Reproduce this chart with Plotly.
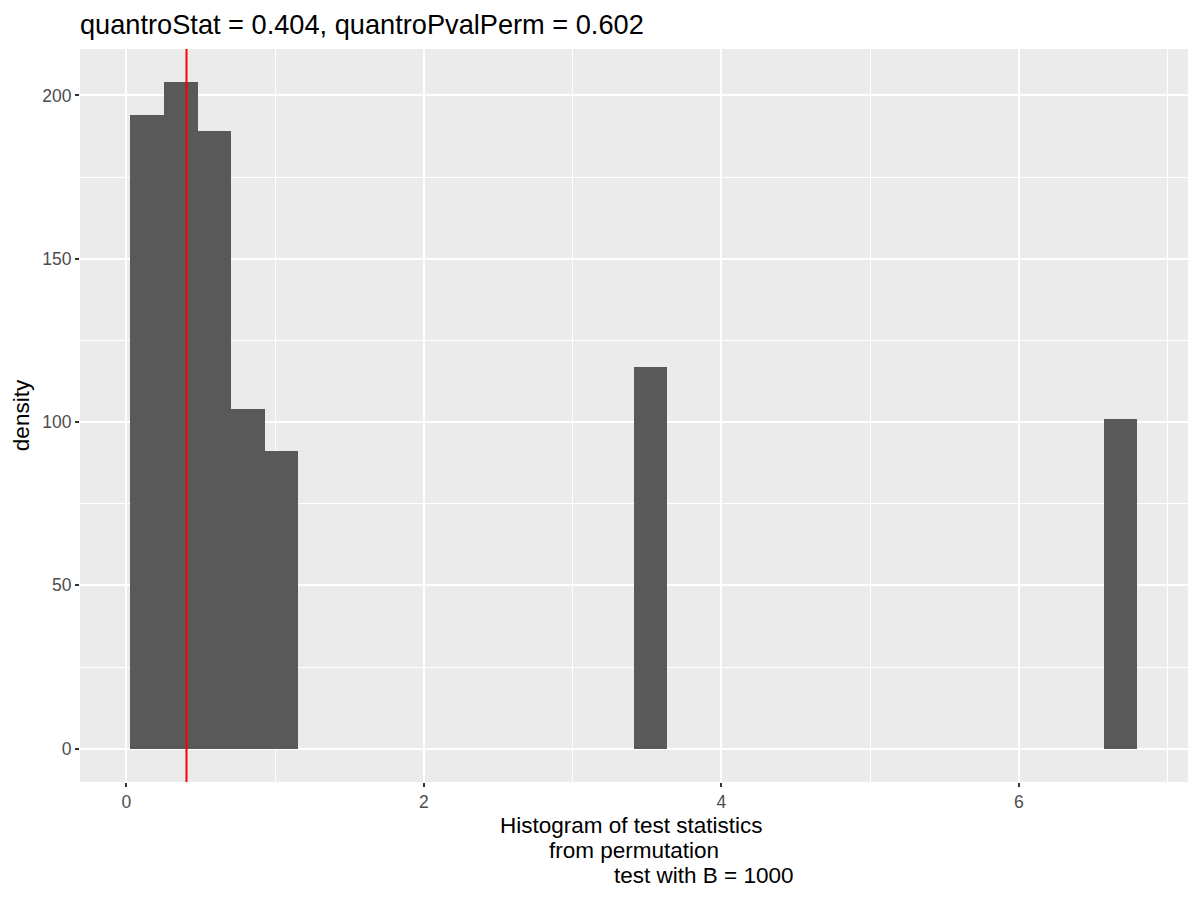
import plotly.graph_objects as go

# ---- data ----
bin_start = 0.027          # left edge of the first bin
bin_width = 0.2257         # histogram bin width (30 bins)
bin_counts = [194, 204, 189, 104, 91, 0, 0, 0, 0, 0,
              0, 0, 0, 0, 0, 117, 0, 0, 0, 0,
              0, 0, 0, 0, 0, 0, 0, 0, 0, 101]
quantro_stat = 0.404
quantro_pval = 0.602
B = 1000
x_ticks = [0, 2, 4, 6]
y_ticks = [0, 50, 100, 150, 200]
x_title_lines = ["Histogram of test statistics", "from permutation", f"test with B = {B}"]

bin_centers = [bin_start + bin_width * (i + 0.5) for i in range(len(bin_counts))]

FONT = "Liberation Sans, Arial, sans-serif"
OFF = 8  # page body margin of the browser

fig = go.Figure()
fig.add_trace(go.Bar(
    x=bin_centers, y=bin_counts, width=bin_width,
    marker=dict(color="#595959", line=dict(width=0)),
    showlegend=False, hoverinfo="x+y",
))
fig.add_vline(x=quantro_stat, line=dict(color="#FF0000", width=2), layer="above")

# multi-line x-axis title (ggplot style line spacing, third line indented)
line_shift_x = [-2.5, 0, 69]
line_shift_y = [-43, -68, -93]
for txt, dx, dy in zip(x_title_lines, line_shift_x, line_shift_y):
    fig.add_annotation(
        text=txt, xref="paper", yref="paper", x=0.5, y=0,
        xanchor="center", yanchor="middle", xshift=dx, yshift=dy,
        showarrow=False, font=dict(size=22.5, color="black", family=FONT),
    )

fig.update_layout(
    width=1200, height=900,
    margin=dict(l=80 - OFF, r=12 + OFF, t=49 - OFF, b=118 + OFF, autoexpand=False),
    paper_bgcolor="white", plot_bgcolor="#EBEBEB",
    font=dict(family=FONT, color="black"),
    bargap=0,
    title=dict(
        text=f"quantroStat = {quantro_stat:.3f}, quantroPvalPerm = {quantro_pval:.3f}",
        x=0, xref="paper", xanchor="left",
        y=1 - 16 / 900, yref="container", yanchor="middle",
        font=dict(size=27.2, color="black", family=FONT),
    ),
    xaxis=dict(
        range=[-0.312, 7.138], tickvals=x_ticks,
        ticktext=[str(v) for v in x_ticks],
        showgrid=True, gridcolor="white", gridwidth=2,
        minor=dict(dtick=1, tick0=1, showgrid=True, gridcolor="white", gridwidth=1),
        zeroline=False, showline=False,
        ticks="outside", ticklen=4, tickwidth=2, tickcolor="#333333",
        tickfont=dict(size=17.5, color="#4D4D4D", family=FONT),
    ),
    yaxis=dict(
        range=[-10.2, 214.2], tickvals=y_ticks,
        ticktext=[str(v) for v in y_ticks],
        showgrid=True, gridcolor="white", gridwidth=2,
        minor=dict(dtick=25, tick0=25, showgrid=True, gridcolor="white", gridwidth=1),
        zeroline=False, showline=False,
        ticks="outside", ticklen=4, tickwidth=2, tickcolor="#333333",
        tickfont=dict(size=17.5, color="#4D4D4D", family=FONT),
        title=dict(text="density", font=dict(size=22.5, color="black", family=FONT), standoff=6),
    ),
)

fig.write_html("out.html")
